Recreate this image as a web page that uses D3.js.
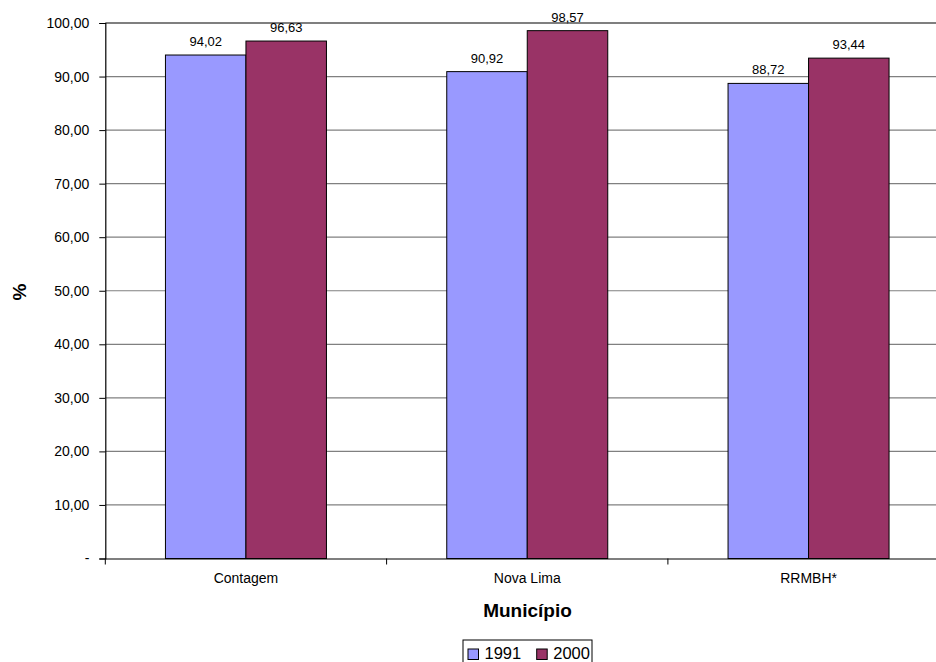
<!DOCTYPE html>
<html>
<head>
<meta charset="utf-8">
<script src="https://cdn.jsdelivr.net/npm/d3@7"></script>
<style>
body { margin: 0; background: #fff; }
svg { font-family: "Liberation Sans", Arial, sans-serif; }
</style>
</head>
<body>
<svg id="chart" width="936" height="662"></svg>
<script>
const categories = ['Contagem', 'Nova Lima', 'RRMBH*'];
const seriesNames = ['1991', '2000'];
const values1991 = [94.02, 90.92, 88.72];
const values2000 = [96.63, 98.57, 93.44];
const yTicks = [0, 10, 20, 30, 40, 50, 60, 70, 80, 90, 100];
const colors = ['#9999FF', '#993366'];

const svg = d3.select('#chart');
const plotLeft = 105.3, plotTop = 23, plotBottom = 558.5, plotRight = 105.3 + 3 * 281.3;

const fmt = v => v === 0 ? '-' : d3.format('.2f')(v).replace('.', ',');
const font = '"Liberation Sans", Arial, sans-serif';

const x = d3.scaleBand().domain(categories).range([plotLeft, plotRight]).paddingInner(0).paddingOuter(0);
const y = d3.scaleLinear().domain([0, 100]).range([plotBottom, plotTop]);

// gridlines
svg.append('g')
    .selectAll('line')
    .data(yTicks.filter(d => d > 0 && d < 100))
    .enter()
    .append('line')
        .attr('x1', plotLeft).attr('x2', plotRight)
        .attr('y1', d => y(d)).attr('y2', d => y(d))
        .attr('stroke', '#808080').attr('stroke-width', 1.2);

// top border
svg.append('line')
    .attr('x1', plotLeft).attr('x2', plotRight)
    .attr('y1', y(100)).attr('y2', y(100))
    .attr('stroke', '#000').attr('stroke-width', 1.2);

const barW = 80.5;
const data = [];
categories.forEach((c, i) => {
    data.push({ c, s: 0, v: values1991[i] });
    data.push({ c, s: 1, v: values2000[i] });
});

svg.append('g')
    .selectAll('rect')
    .data(data)
    .enter()
    .append('rect')
        .attr('x', d => x(d.c) + x.bandwidth() / 2 - barW + d.s * barW)
        .attr('y', d => y(d.v))
        .attr('width', barW)
        .attr('height', d => y(0) - y(d.v))
        .attr('fill', d => colors[d.s])
        .attr('stroke', '#000').attr('stroke-width', 1);

svg.append('g')
    .selectAll('text')
    .data(data)
    .enter()
    .append('text')
        .attr('x', d => x(d.c) + x.bandwidth() / 2 - barW / 2 + d.s * barW)
        .attr('y', d => y(d.v) - 9)
        .attr('text-anchor', 'middle')
        .attr('font-size', 13)
        .attr('fill', '#000')
        .text(d => fmt(d.v));

// y axis
const yAxis = d3.axisLeft(y).tickValues(yTicks).tickFormat(fmt).tickSize(6).tickPadding(10);
const gy = svg.append('g').attr('transform', `translate(${plotLeft},0)`).call(yAxis);
gy.select('.domain').attr('stroke', '#000').attr('stroke-width', 1.2);
gy.selectAll('.tick line').attr('stroke', '#000');
gy.selectAll('.tick text').attr('font-size', 14).attr('fill', '#000').attr('font-family', font);

// x axis
const xAxis = d3.axisBottom(x).tickSize(0).tickPadding(15);
const gx = svg.append('g').attr('transform', `translate(0,${plotBottom})`).call(xAxis);
gx.select('.domain').attr('stroke', '#000').attr('stroke-width', 1.2);
gx.selectAll('.tick text').attr('font-size', 14).attr('fill', '#000').attr('font-family', font);
svg.append('g')
    .selectAll('line')
    .data(categories.map(c => x(c)))
    .enter()
    .append('line')
        .attr('x1', d => d).attr('x2', d => d)
        .attr('y1', plotBottom).attr('y2', plotBottom + 6)
        .attr('stroke', '#000');

// axis titles
svg.append('text')
    .attr('x', 527.5).attr('y', 617)
    .attr('text-anchor', 'middle')
    .attr('font-size', 19).attr('font-weight', 'bold')
    .text('Município');

svg.append('text')
    .attr('transform', 'translate(26,292) rotate(-90)')
    .attr('text-anchor', 'middle')
    .attr('font-size', 19).attr('font-weight', 'bold')
    .text('%');

// legend
const lg = svg.append('g').attr('transform', 'translate(463,640)');
lg.append('rect').attr('x', 0).attr('y', 0).attr('width', 129).attr('height', 28)
    .attr('fill', '#fff').attr('stroke', '#000').attr('stroke-width', 1);
seriesNames.forEach((s, i) => {
    const g = lg.append('g').attr('transform', `translate(${5 + i * 68.7},0)`);
    g.append('rect').attr('x', 0).attr('y', 9).attr('width', 10.5).attr('height', 10.5)
        .attr('fill', colors[i]).attr('stroke', '#000');
    g.append('text').attr('x', 16.5).attr('y', 19).attr('font-size', 16.5).text(s);
});
</script>
</body>
</html>
